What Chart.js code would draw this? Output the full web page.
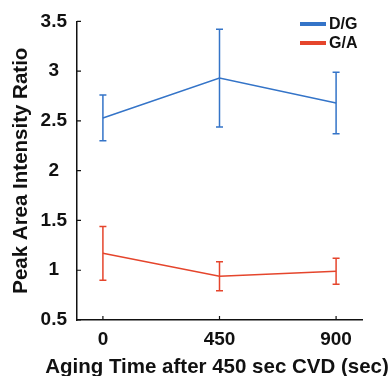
<!DOCTYPE html>
<html>
<head>
<meta charset="utf-8">
<script src="https://cdn.jsdelivr.net/npm/chart.js@4"></script>
<style>
  html, body { margin: 0; padding: 0; background: #fff; }
  #wrap { width: 391px; height: 376px; }
</style>
</head>
<body>
<div id="wrap"><canvas id="graph1" width="391" height="376"></canvas></div>
<script>
// data //
const agingTimes = [0, 450, 900];
const xTicks = [0, 450, 900];
const dgMean = [2.53, 2.93, 2.68];
const dgErr = [0.23, 0.49, 0.31];
const gaMean = [1.17, 0.94, 0.99];
const gaErr = [0.27, 0.145, 0.13];
const seriesNames = ['D/G', 'G/A'];
const xTitle = 'Aging Time after 450 sec CVD (sec)';
const yTitle = 'Peak Area Intensity Ratio';

const blue = 'rgb(52,116,200)';
const red = 'rgb(229,69,44)';
const font = '"Liberation Sans", Arial, sans-serif';

// error bars + inward ticks + legend + x title //
const extras = {
    id: 'extras',
    afterDatasetsDraw(chart) {
        const ctx = chart.ctx;
        const xs = chart.scales.x;
        const ys = chart.scales.y;
        ctx.save();
        chart.data.datasets.forEach(function(ds) {
            ctx.strokeStyle = ds.borderColor;
            ctx.lineWidth = 1.5;
            for (let i = 0; i < ds.data.length; i++) {
                const px = xs.getPixelForValue(ds.data[i].x);
                const top = ys.getPixelForValue(ds.data[i].y + ds.err[i]);
                const bot = ys.getPixelForValue(ds.data[i].y - ds.err[i]);
                ctx.beginPath();
                ctx.moveTo(px, top); ctx.lineTo(px, bot);
                ctx.moveTo(px - 3.5, top); ctx.lineTo(px + 3.5, top);
                ctx.moveTo(px - 3.5, bot); ctx.lineTo(px + 3.5, bot);
                ctx.stroke();
            }
        });
        ctx.restore();
    },
    afterDraw(chart) {
        const ctx = chart.ctx;
        const xs = chart.scales.x;
        const ys = chart.scales.y;
        const area = chart.chartArea;
        ctx.save();
        ctx.strokeStyle = '#111';
        ctx.lineWidth = 1.2;
        ctx.beginPath();
        ys.ticks.forEach(function(t) {
            const py = ys.getPixelForValue(t.value);
            ctx.moveTo(area.left, py); ctx.lineTo(area.left + 4, py);
        });
        xs.ticks.forEach(function(t) {
            const px = xs.getPixelForValue(t.value);
            ctx.moveTo(px, area.bottom); ctx.lineTo(px, area.bottom - 4);
        });
        ctx.stroke();

        // legend
        ctx.font = 'bold 16px ' + font;
        ctx.textBaseline = 'middle';
        ctx.textAlign = 'left';
        chart.data.datasets.forEach(function(ds, i) {
            const ly = 24 + i * 19;
            ctx.strokeStyle = ds.borderColor;
            ctx.lineWidth = 4;
            ctx.beginPath();
            ctx.moveTo(300, ly); ctx.lineTo(326, ly);
            ctx.stroke();
            ctx.fillStyle = '#111';
            ctx.fillText(ds.label, 329, ly + 1);
        });

        // x title (wider than the axis, so drawn here)
        ctx.font = 'bold 20.5px ' + font;
        ctx.textAlign = 'center';
        ctx.fillStyle = '#111';
        ctx.fillText(xTitle, 217, 367);
        ctx.restore();
    }
};

const canvas = document.getElementById('graph1');

new Chart(canvas, {
    type: 'scatter',
    data: {
        datasets: [{
            label: seriesNames[0],
            data: agingTimes.map((t, i) => ({x: t, y: dgMean[i]})),
            err: dgErr,
            borderColor: blue,
            backgroundColor: blue,
            borderWidth: 1.5,
            showLine: true,
            pointRadius: 0
        }, {
            label: seriesNames[1],
            data: agingTimes.map((t, i) => ({x: t, y: gaMean[i]})),
            err: gaErr,
            borderColor: red,
            backgroundColor: red,
            borderWidth: 1.5,
            showLine: true,
            pointRadius: 0
        }]
    },
    options: {
        responsive: false,
        animation: false,
        layout: {
            padding: { left: 0, top: 20, right: 29, bottom: 0 }
        },
        plugins: {
            legend: { display: false },
            tooltip: { enabled: false }
        },
        scales: {
            x: {
                type: 'linear',
                min: -100,
                max: 1000,
                afterBuildTicks: function(scale) {
                    scale.ticks = xTicks.map(v => ({value: v}));
                },
                afterFit: function(scale) {
                    scale.height = 56;
                },
                grid: { drawOnChartArea: false, drawTicks: false },
                border: { color: '#111', width: 1.5 },
                ticks: {
                    color: '#111',
                    padding: 8,
                    callback: v => String(v),
                    font: { family: font, size: 19, weight: 'bold' }
                }
            },
            y: {
                min: 0.5,
                max: 3.5,
                afterFit: function(scale) {
                    scale.width = 77;
                },
                grid: { drawOnChartArea: false, drawTicks: false },
                border: { color: '#111', width: 1.5 },
                ticks: {
                    stepSize: 0.5,
                    color: '#111',
                    padding: 10,
                    crossAlign: 'center',
                    callback: v => String(v),
                    font: { family: font, size: 19, weight: 'bold' }
                },
                title: {
                    display: true,
                    text: yTitle,
                    color: '#111',
                    padding: { top: 9, bottom: 0 },
                    font: { family: font, size: 20.5, weight: 'bold' }
                }
            }
        }
    },
    plugins: [extras]
});
</script>
</body>
</html>
